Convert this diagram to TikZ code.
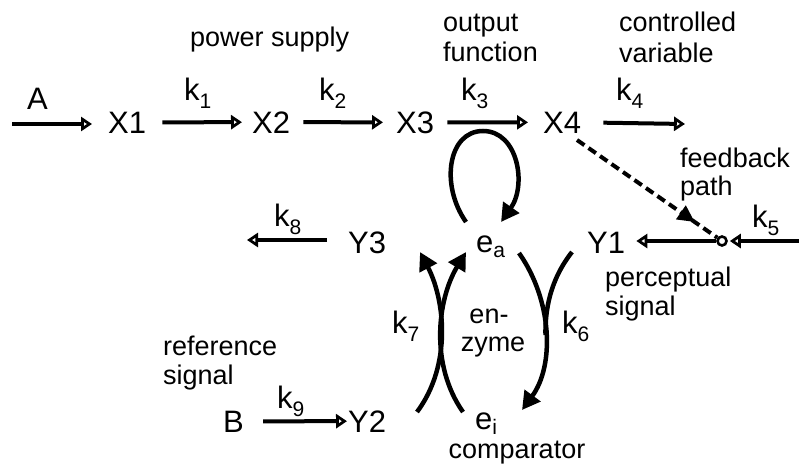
\documentclass[tikz,border=0pt]{standalone}
\usepackage{fontspec}
\setmainfont{Liberation Sans}
\usetikzlibrary{arrows.meta,decorations.markings}
\newcommand{\kk}[1]{k\raisebox{-8pt}{\fontsize{21}{21}\selectfont #1}}
\newcommand{\esub}[1]{e\raisebox{-5pt}{\fontsize{21}{21}\selectfont #1}}
\begin{document}
\begin{tikzpicture}[x=1pt,y=-1pt,
  big/.style={font=\fontsize{31}{36}\selectfont, inner sep=0pt, anchor=base west},
  kl/.style={font=\fontsize{31}{36}\selectfont, inner sep=0pt, anchor=base west},
  lbl/.style={font=\fontsize{27}{32}\selectfont, inner sep=0pt, anchor=base west},
  flow/.style={line width=4pt, -{Triangle[open, length=11pt, width=14pt, line width=3pt]}},
  curv/.style={line width=4.5pt, -{Triangle[length=18pt, width=19pt]}},
  plain/.style={line width=4.5pt},
  fb/.style={line width=4pt, dash pattern=on 9pt off 5pt,
     postaction={decorate},
     decoration={markings, mark=at position 0.84 with {\arrow{Triangle[length=17pt, width=16pt]}}}},
]
\useasboundingbox (0,0) rectangle (799,468);

% top row
\node[big] (A)  at (27,110) {A};
\node[big] (X1) at (108,133) {X1};
\node[big] (X2) at (252,133) {X2};
\node[big] (X3) at (396,133) {X3};
\node[big] (X4) at (543,133) {X4};
\node[kl] (k1) at (184,101) {\kk{1}};
\node[kl] (k2) at (319,101) {\kk{2}};
\node[kl] (k3) at (461,101) {\kk{3}};
\node[kl] (k4) at (616,101) {\kk{4}};
\node[lbl] (ps)  at (190,47) {power supply};
\node[lbl] (out) at (443,32) {output};
\node[lbl] (fun) at (443,62) {function};
\node[lbl] (con) at (619,32) {controlled};
\node[lbl] (var) at (619,63) {variable};

\coordinate (Ain) at (12,124);
\coordinate (X4out) at (685,124);
\draw[flow, shorten >=16pt] (Ain) -- (Ain -| X1.west);
\draw[flow, shorten <=16pt, shorten >=10pt] (X1.east) -- (X2.west);
\draw[flow, shorten <=13pt, shorten >=13pt] (X2.east) -- (X3.west);
\draw[flow, shorten <=13pt, shorten >=15pt] (X3.east) -- (X4.west);
\draw[flow, shorten <=22pt] (X4.east) -- (X4out);

% self loop on X3 -> X4
\coordinate (L0) at (466,222);
\coordinate (L1) at (483,131);
\coordinate (L2) at (501,222);
\draw[curv] (L0) .. controls (440,185) and (448,131) .. (L1)
  .. controls (518,131) and (527,185) .. (L2);

% middle row
\node[big] (Y3) at (348,253) {Y3};
\node[big] (ea) at (476,252) {\esub{a}};
\node[big] (Y1) at (587,253) {Y1};
\node[kl] (k8) at (274,226) {\kk{8}};
\node[kl] (k5) at (752,227) {\kk{5}};
\node[lbl] (fb1) at (680,167) {feedback};
\node[lbl] (fb2) at (680,195) {path};
\node[lbl] (pc1) at (605,286) {perceptual};
\node[lbl] (pc2) at (605,315) {signal};

\node[circle, draw, line width=2.6pt, fill=white, minimum size=9pt, inner sep=0pt] (cir) at (722,241) {};
\coordinate (Rin) at (799,241);
\coordinate (Y3out) at (247,240);
\coordinate (X4d) at (577,140);
\draw[fb] (X4d) -- (cir);
\draw[flow, shorten >=11pt] (cir.west) -- (Y1.east |- cir.west);
\draw[flow, shorten >=2pt] (Rin) -- (cir.east);
\draw[flow, shorten <=21pt] (Y3.west |- Y3out) -- (Y3out);

% enzyme cycle
\node[kl] (k7) at (392,333) {\kk{7}};
\node[kl] (k6) at (562,333) {\kk{6}};
\node[lbl, anchor=base] (en) at (489,323) {en-};
\node[lbl, anchor=base] (zy) at (493,351) {zyme};

\coordinate (Y2u) at (417,412);
\coordinate (Y3d) at (420,252);
\coordinate (eiu) at (463,412);
\coordinate (ead) at (466,252);
\draw[curv] (Y2u) .. controls (452,365) and (445,300) .. (Y3d);
\draw[curv] (eiu) .. controls (430,365) and (437,300) .. (ead);

\coordinate (ear) at (519,253);
\coordinate (eir) at (522,410);
\coordinate (Y1d) at (572,252);
\coordinate (mrg) at (545.5,335);
\draw[curv] (ear) .. controls (552,300) and (555,365) .. (eir);
\draw[plain] (Y1d) .. controls (550,280) and (545,310) .. (mrg);

% bottom row
\node[lbl] (ref1) at (163,355) {reference};
\node[lbl] (ref2) at (163,384) {signal};
\node[big] (B)  at (223,432) {B};
\node[big] (Y2) at (348,432) {Y2};
\node[big] (ei) at (475,429) {\esub{i}};
\node[kl] (k9) at (277,408) {\kk{9}};
\node[lbl, anchor=base] (cmp) at (517,458) {comparator};
\draw[flow, shorten <=19pt, shorten >=1pt] (B.east) -- (Y2.west);
\end{tikzpicture}
\end{document}
